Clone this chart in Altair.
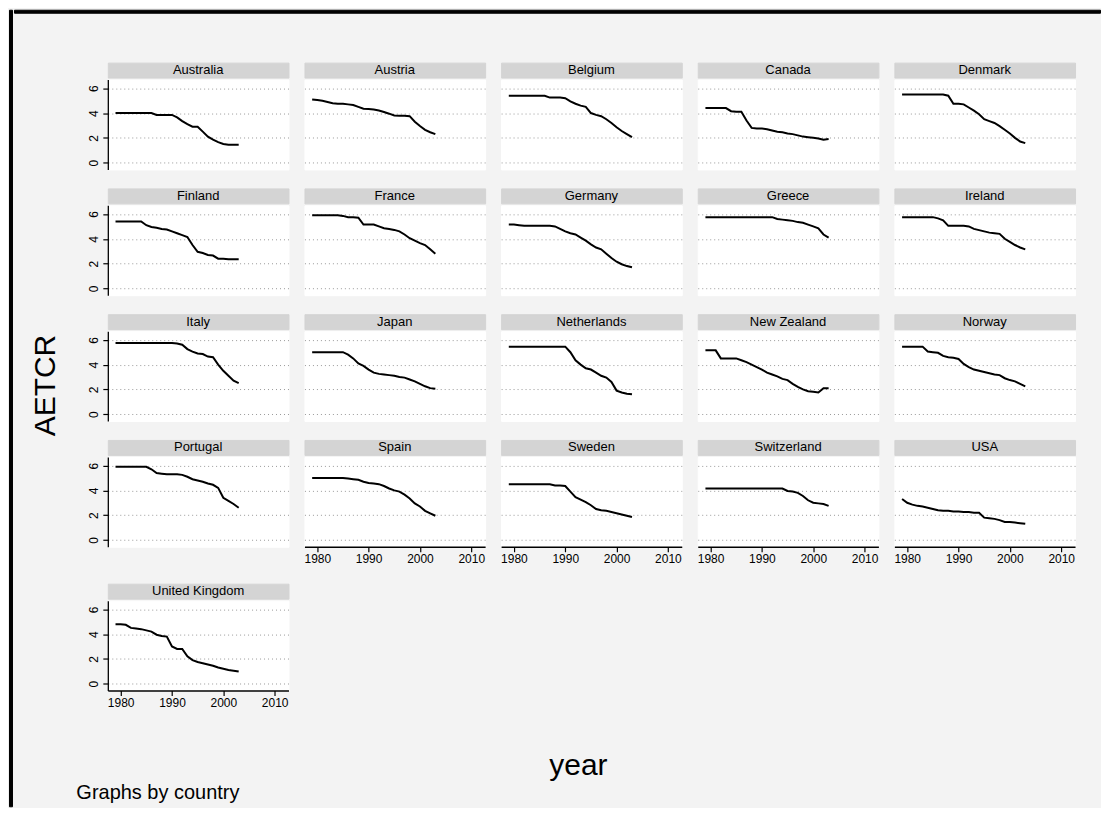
import altair as alt
import pandas as pd

FONT = "Liberation Sans"

YEARS = [1979, 1980, 1981, 1982, 1983, 1984, 1985, 1986, 1987, 1988, 1989, 1990,
         1991, 1992, 1993, 1994, 1995, 1996, 1997, 1998, 1999, 2000, 2001, 2002, 2003]

AUSTRALIA = [4.0, 4.0, 4.0, 4.0, 4.0, 4.0, 4.0, 4.0, 3.85, 3.85, 3.85, 3.85, 3.65,
             3.35, 3.1, 2.9, 2.9, 2.5, 2.1, 1.85, 1.65, 1.5, 1.45, 1.45, 1.45]
AUSTRIA = [5.1, 5.05, 5.0, 4.9, 4.8, 4.75, 4.75, 4.7, 4.65, 4.5, 4.35, 4.33, 4.28,
           4.2, 4.08, 3.95, 3.8, 3.78, 3.78, 3.75, 3.3, 2.95, 2.65, 2.45, 2.3]
BELGIUM = [5.4, 5.4, 5.4, 5.4, 5.4, 5.4, 5.4, 5.4, 5.25, 5.25, 5.25, 5.2, 4.95,
           4.75, 4.6, 4.5, 4.0, 3.85, 3.75, 3.5, 3.2, 2.85, 2.55, 2.3, 2.05]
CANADA = [4.4, 4.4, 4.4, 4.4, 4.4, 4.15, 4.1, 4.1, 3.4, 2.8, 2.75, 2.75, 2.7,
          2.6, 2.5, 2.45, 2.35, 2.3, 2.2, 2.1, 2.05, 2.0, 1.95, 1.85, 1.9]
DENMARK = [5.5, 5.5, 5.5, 5.5, 5.5, 5.5, 5.5, 5.5, 5.5, 5.4, 4.75, 4.75, 4.7,
           4.45, 4.2, 3.9, 3.5, 3.35, 3.2, 2.95, 2.65, 2.35, 2.0, 1.7, 1.57]
FINLAND = [5.4, 5.4, 5.4, 5.4, 5.4, 5.4, 5.1, 4.95, 4.9, 4.8, 4.75, 4.6, 4.45,
           4.3, 4.15, 3.5, 2.95, 2.85, 2.7, 2.65, 2.4, 2.4, 2.35, 2.35, 2.35]
FRANCE = [5.9, 5.9, 5.9, 5.9, 5.9, 5.9, 5.85, 5.75, 5.75, 5.7, 5.15, 5.15, 5.15,
          5.0, 4.85, 4.8, 4.72, 4.6, 4.35, 4.05, 3.85, 3.65, 3.5, 3.15, 2.8]
GERMANY = [5.15, 5.15, 5.1, 5.05, 5.05, 5.05, 5.05, 5.05, 5.05, 5.0, 4.8, 4.6, 4.45,
           4.35, 4.1, 3.85, 3.55, 3.3, 3.15, 2.8, 2.45, 2.15, 1.95, 1.8, 1.7]
GREECE = [5.75, 5.75, 5.75, 5.75, 5.75, 5.75, 5.75, 5.75, 5.75, 5.75, 5.75, 5.75, 5.75,
          5.75, 5.6, 5.55, 5.5, 5.45, 5.35, 5.3, 5.15, 5.0, 4.85, 4.35, 4.1]
IRELAND = [5.75, 5.75, 5.75, 5.75, 5.75, 5.75, 5.75, 5.65, 5.5, 5.05, 5.05, 5.05, 5.05,
           5.0, 4.8, 4.7, 4.6, 4.5, 4.45, 4.4, 4.0, 3.75, 3.5, 3.3, 3.15]
ITALY = [5.75, 5.75, 5.75, 5.75, 5.75, 5.75, 5.75, 5.75, 5.75, 5.75, 5.75, 5.75, 5.7,
         5.6, 5.25, 5.05, 4.9, 4.85, 4.65, 4.6, 4.0, 3.5, 3.1, 2.7, 2.5]
JAPAN = [5.0, 5.0, 5.0, 5.0, 5.0, 5.0, 5.0, 4.8, 4.5, 4.1, 3.9, 3.6, 3.35,
         3.25, 3.2, 3.15, 3.1, 3.0, 2.95, 2.8, 2.65, 2.45, 2.25, 2.1, 2.05]
NETHERLANDS = [5.45, 5.45, 5.45, 5.45, 5.45, 5.45, 5.45, 5.45, 5.45, 5.45, 5.45, 5.45, 5.0,
               4.35, 4.0, 3.7, 3.6, 3.35, 3.1, 2.95, 2.6, 1.9, 1.75, 1.65, 1.6]
NEW_ZEALAND = [5.15, 5.15, 5.15, 4.5, 4.5, 4.5, 4.5, 4.35, 4.2, 4.0, 3.8, 3.6, 3.35,
               3.2, 3.05, 2.85, 2.75, 2.45, 2.2, 2.0, 1.85, 1.8, 1.75, 2.1, 2.1]
NORWAY = [5.45, 5.45, 5.45, 5.45, 5.45, 5.05, 5.0, 4.95, 4.7, 4.6, 4.55, 4.45, 4.05,
          3.8, 3.6, 3.5, 3.4, 3.3, 3.2, 3.15, 2.9, 2.75, 2.65, 2.45, 2.25]
PORTUGAL = [5.9, 5.9, 5.9, 5.9, 5.9, 5.9, 5.9, 5.7, 5.4, 5.35, 5.3, 5.3, 5.3,
            5.25, 5.1, 4.9, 4.8, 4.7, 4.55, 4.45, 4.2, 3.4, 3.15, 2.9, 2.6]
SPAIN = [5.0, 5.0, 5.0, 5.0, 5.0, 5.0, 5.0, 4.95, 4.9, 4.85, 4.7, 4.6, 4.55,
         4.5, 4.35, 4.15, 4.0, 3.9, 3.65, 3.35, 2.95, 2.7, 2.35, 2.15, 1.95]
SWEDEN = [4.5, 4.5, 4.5, 4.5, 4.5, 4.5, 4.5, 4.5, 4.5, 4.4, 4.4, 4.35, 3.9,
          3.45, 3.25, 3.05, 2.8, 2.5, 2.4, 2.35, 2.25, 2.15, 2.05, 1.95, 1.85]
SWITZERLAND = [4.15, 4.15, 4.15, 4.15, 4.15, 4.15, 4.15, 4.15, 4.15, 4.15, 4.15, 4.15, 4.15,
               4.15, 4.15, 4.15, 3.95, 3.9, 3.8, 3.55, 3.2, 3.0, 2.95, 2.9, 2.75]
USA = [3.3, 3.0, 2.85, 2.75, 2.7, 2.6, 2.5, 2.4, 2.35, 2.35, 2.3, 2.3, 2.25,
       2.25, 2.2, 2.2, 1.8, 1.75, 1.7, 1.6, 1.45, 1.45, 1.4, 1.35, 1.3]
UNITED_KINGDOM = [4.8, 4.8, 4.75, 4.5, 4.45, 4.4, 4.3, 4.2, 3.95, 3.85, 3.8, 3.0, 2.8,
                  2.8, 2.2, 1.9, 1.75, 1.65, 1.55, 1.45, 1.3, 1.2, 1.1, 1.05, 0.98]

COUNTRIES = ["Australia", "Austria", "Belgium", "Canada", "Denmark",
             "Finland", "France", "Germany", "Greece", "Ireland",
             "Italy", "Japan", "Netherlands", "New Zealand", "Norway",
             "Portugal", "Spain", "Sweden", "Switzerland", "USA",
             "United Kingdom"]
SERIES = [AUSTRALIA, AUSTRIA, BELGIUM, CANADA, DENMARK,
          FINLAND, FRANCE, GERMANY, GREECE, IRELAND,
          ITALY, JAPAN, NETHERLANDS, NEW_ZEALAND, NORWAY,
          PORTUGAL, SPAIN, SWEDEN, SWITZERLAND, USA,
          UNITED_KINGDOM]
Y_TICKS = [0, 2, 4, 6]
X_TICKS = [1980, 1990, 2000, 2010]

NCOL = 5
W = 181
PH = 90
SH = 15
HS = 14
VS = 17
BG = "#f3f3f3"
STRIP = "#d4d4d4"
GRID = "#9a9a9a"


def panel(name, vals, col, show_x):
    df = pd.DataFrame({"year": YEARS, "aetcr": vals})
    strip = alt.Chart(pd.DataFrame({"country": [name]})).mark_text(
        font=FONT, fontSize=13, color="black"
    ).encode(text="country:N").properties(
        width=W, height=SH, view=alt.ViewBackground(fill=STRIP, stroke=STRIP)
    )
    if col == 0:
        yaxis = alt.Axis(values=Y_TICKS, labelAngle=270, labelFontSize=12, labelFont=FONT,
                         labelColor="black", tickSize=5, tickColor="black", domainColor="black",
                         domainWidth=1.3, tickWidth=1.2, labelPadding=2, grid=True, gridColor=GRID,
                         gridDash=[1, 3], gridWidth=1, title=None)
    else:
        yaxis = alt.Axis(values=Y_TICKS, labels=False, ticks=False, domain=False, grid=True,
                         gridColor=GRID, gridDash=[1, 3], gridWidth=1, title=None)
    if show_x:
        xaxis = alt.Axis(values=X_TICKS, format="d", labelFontSize=12, labelFont=FONT,
                         labelColor="black", tickSize=5, tickColor="black", domainColor="black",
                         domainWidth=1.3, tickWidth=1.2, labelPadding=2, grid=False, title=None)
    else:
        xaxis = None
    plot = alt.Chart(df).mark_line(color="black", strokeWidth=2).encode(
        x=alt.X("year:Q", scale=alt.Scale(domain=[1977.5, 2012.7], nice=False, zero=False), axis=xaxis),
        y=alt.Y("aetcr:Q", scale=alt.Scale(domain=[-0.55, 6.7], nice=False, zero=False), axis=yaxis),
    ).properties(width=W, height=PH, view=alt.ViewBackground(fill="white", stroke="white"))
    return alt.vconcat(strip, plot, spacing=2, bounds="flush")


n = len(COUNTRIES)
rows = []
for r in range((n + NCOL - 1) // NCOL):
    cells = []
    for c in range(NCOL):
        i = r * NCOL + c
        if i >= n:
            break
        show_x = i + NCOL >= n
        cells.append(panel(COUNTRIES[i], SERIES[i], c, show_x))
    rows.append(alt.hconcat(*cells, spacing=HS))

grid = alt.vconcat(*rows, spacing=VS).properties(
    title=alt.TitleParams("AETCR", orient="left", anchor="middle", fontSize=30, font=FONT,
                          fontWeight="normal", color="black", offset=26)
)
w1 = alt.vconcat(grid).properties(
    title=alt.TitleParams("year", orient="bottom", anchor="middle", fontSize=30, font=FONT,
                          fontWeight="normal", color="black", offset=42, dx=25)
)
w2 = alt.vconcat(w1).properties(
    title=alt.TitleParams("Graphs by country", orient="bottom", anchor="start", fontSize=20,
                          font=FONT, fontWeight="normal", color="black", offset=2, dx=45)
)


def block(w, h, fill):
    return alt.Chart(pd.DataFrame({"v": [0]})).mark_point(opacity=0, size=1).properties(
        width=w, height=h, view=alt.ViewBackground(fill=fill, stroke=fill)
    )


body = alt.hconcat(block(1, 1, "transparent"), w2, spacing=15)
right = alt.vconcat(block(1088, 3, "black"), block(1, 46, "transparent"), body, spacing=0)
chart = alt.hconcat(block(3, 798, "black"), right, spacing=0).properties(
    padding=0
).configure(background=BG)

chart.save("out.html", embed_options={"renderer": "svg", "actions": False})
